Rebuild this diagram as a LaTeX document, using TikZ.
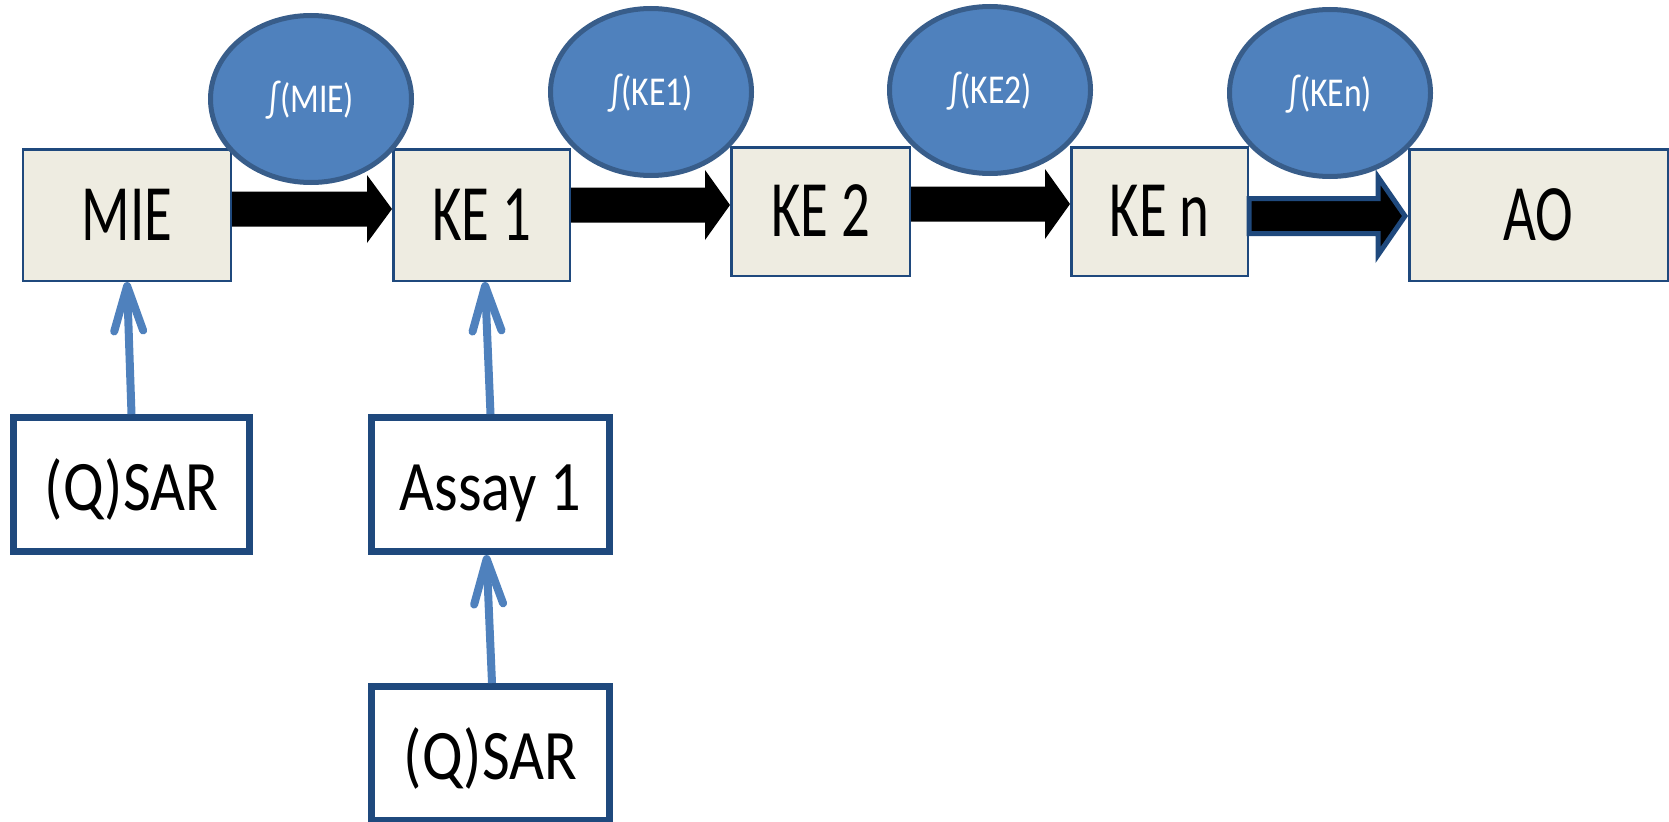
\documentclass[tikz,border=0pt]{standalone}
\usepackage{fontspec}
\usepackage{graphicx}
\setmainfont{Carlito}
\usetikzlibrary{arrows.meta,calc,shapes.geometric}

\definecolor{boxfill}{HTML}{EEECE1}
\definecolor{boxline}{HTML}{1F497D}
\definecolor{ovalfill}{HTML}{4F81BD}
\definecolor{ovalline}{HTML}{385D8A}
\definecolor{linkblue}{HTML}{4F81BD}

% horizontally condensed text
\newcommand\squeeze[2]{\scalebox{#1}[1]{#2}}

% block arrow between two anchors: [style]{start}{end}{half shaft}{half head}{head length}
\newcommand\blockarrow[6][]{%
  \path[#1] let \p1=#2, \p2=#3 in
    (\x1,\y1+#4) -- (\x2-#6,\y1+#4) -- (\x2-#6,\y1+#5) -- (\x2,\y1)
    -- (\x2-#6,\y1-#5) -- (\x2-#6,\y1-#4) -- (\x1,\y1-#4) -- cycle;}

\tikzset{
  stage/.style={draw=boxline, line width=2.5bp, fill=boxfill, inner sep=0pt,
    text height=50bp, text depth=0pt, font=\fontsize{80bp}{90bp}\selectfont},
  source/.style={draw=boxline, line width=7bp, fill=white, inner sep=0pt,
    minimum width=236bp, minimum height=134bp,
    text height=51bp, text depth=0pt, font=\fontsize{71bp}{80bp}\selectfont},
  effect/.style={ellipse, draw=ovalline, line width=5bp, fill=ovalfill, text=white,
    inner sep=0pt, minimum width=201bp, minimum height=167bp,
    text height=26bp, text depth=0pt, font=\fontsize{41bp}{48bp}\selectfont},
  feed/.style={draw=linkblue, line width=8bp, -{Straight Barb[length=45bp,width=29bp,round]}},
  flow/.style={fill=black},
  lastflow/.style={fill=black, draw=boxline, line width=5bp, line join=miter},
}

\begin{document}
\begin{tikzpicture}[x=1bp, y=1bp]
\useasboundingbox (0,0) rectangle (1669,-822);

% key event chain
\node[stage, minimum width=207.5bp, minimum height=131.5bp] (mie) at (127,-215) {\squeeze{0.71}{MIE}};
\node[stage, minimum width=176.5bp, minimum height=131.5bp] (kea) at (481.5,-215) {\squeeze{0.71}{KE 1}};
\node[stage, minimum width=178.5bp, minimum height=128.5bp] (keb) at (820.5,-211.5) {\squeeze{0.71}{KE 2}};
\node[stage, minimum width=176.5bp, minimum height=128.5bp] (ken) at (1159.5,-211.5) {\squeeze{0.71}{KE n}};
\node[stage, minimum width=258.5bp, minimum height=131.5bp] (ao) at (1538.5,-215) {\squeeze{0.71}{AO}};

% block arrows along the chain
\blockarrow[flow]{([yshift=6bp]mie.east)}{(kea.west)}{17.5bp}{34bp}{25bp}
\blockarrow[flow]{([yshift=10bp]kea.east)}{(keb.west)}{17.5bp}{35bp}{25bp}
\blockarrow[flow]{([yshift=7.5bp]keb.east)}{(ken.west)}{17.5bp}{35bp}{25bp}
\blockarrow[lastflow]{([yshift=-4.5bp]ken.east)}{([xshift=-3bp]ao.west)}{17.5bp}{39bp}{27bp}

% response functions
\node[effect] (fmie) at (311,-99) {\squeeze{0.82}{∫(MIE)}};
\node[effect] (fkea) at (651,-92) {\squeeze{0.82}{∫(KE1)}};
\node[effect] (fkeb) at (990,-90) {\squeeze{0.82}{∫(KE2)}};
\node[effect] (fken) at (1330,-93) {\squeeze{0.82}{∫(KEn)}};

% data sources
\node[source] (qsara) at (131.5,-484.5) {\squeeze{0.85}{(Q)SAR}};
\node[source, minimum width=238bp] (assay) at (490.5,-484.5) {\squeeze{0.85}{Assay 1}};
\node[source, minimum width=238bp] (qsarb) at (490.5,-753.5) {\squeeze{0.85}{(Q)SAR}};

\draw[feed] (qsara.north) -- (mie.south);
\draw[feed] (assay.north) -- ([xshift=3.5bp]kea.south);
\draw[feed] ([xshift=1.5bp]qsarb.north) -- ([xshift=-4bp]assay.south);
\end{tikzpicture}
\end{document}
